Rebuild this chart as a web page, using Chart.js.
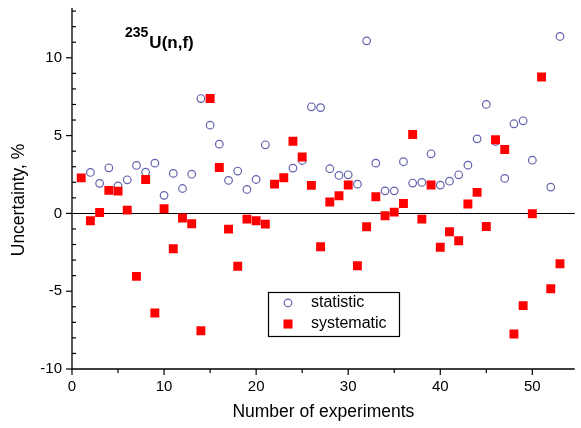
<!DOCTYPE html>
<html>
<head>
<meta charset="utf-8">
<script src="https://cdn.jsdelivr.net/npm/chart.js@4.4.1/dist/chart.umd.min.js"></script>
<style>
html,body{margin:0;padding:0;background:#fff;}
#wrap{width:581px;height:428px;}
</style>
</head>
<body>
<div id="wrap"><canvas id="c" width="581" height="428"></canvas></div>
<script>
const experiments = Array.from({length:53},(_,i)=>i+1);
const statistic = [null,2.63,1.93,2.93,1.77,2.16,3.08,2.65,3.23,1.16,2.57,1.6,2.52,7.38,5.67,4.45,2.12,2.72,1.54,2.18,4.41,null,null,2.91,3.4,6.85,6.8,2.87,2.44,2.48,1.88,11.09,3.23,1.45,1.45,3.32,1.95,1.99,3.83,1.82,2.07,2.48,3.1,4.79,7.0,4.62,2.25,5.76,5.95,3.42,null,1.69,11.37];
const systematic = [2.28,-0.47,0.06,1.48,1.43,0.21,-4.05,2.18,-6.4,0.3,-2.27,-0.3,-0.67,-7.54,7.38,2.95,-1.01,-3.4,-0.37,-0.47,-0.69,1.88,2.29,4.64,3.62,1.8,-2.14,0.73,1.13,1.82,-3.36,-0.86,1.07,-0.15,0.08,0.64,5.07,-0.37,1.82,-2.18,-1.18,-1.76,0.6,1.35,-0.84,4.73,4.11,-7.75,-5.93,-0.02,8.77,-4.84,-3.24];
const xMajorTicks = [0,10,20,30,40,50];
const xMinorTicks = [5,15,25,35,45];
const yMajorTicks = [-10,-5,0,5,10];
const yMinorTicks = [-9,-8,-7,-6,-4,-3,-2,-1,1,2,3,4,6,7,8,9,11,12,13];
const xTitle = 'Number of experiments';
const yTitle = 'Uncertainty, %';
const FONT = '"Liberation Sans", Arial, Helvetica, sans-serif';

const toPts = arr => experiments.map((n,i)=>({x:n,y:arr[i]})).filter(p=>p.y!==null);

const decor = {
  id:'decor',
  beforeDatasetsDraw(chart){
    const {ctx, chartArea:a, scales:{x,y}} = chart;
    ctx.save();
    ctx.strokeStyle='#000'; ctx.lineWidth=1.2;
    const y0 = Math.round(y.getPixelForValue(0))+0.5;
    ctx.beginPath(); ctx.moveTo(a.left,y0); ctx.lineTo(a.right,y0); ctx.stroke();
    ctx.restore();
  },
  afterDraw(chart){
    const {ctx, chartArea:a, scales:{x,y}} = chart;
    ctx.save();
    ctx.strokeStyle='#000'; ctx.lineWidth=1.3;
    ctx.beginPath(); ctx.moveTo(a.left,a.top); ctx.lineTo(a.left,a.bottom); ctx.lineTo(a.right,a.bottom); ctx.stroke();
    ctx.lineWidth=1.2;
    xMajorTicks.forEach(v=>{const px=x.getPixelForValue(v);ctx.beginPath();ctx.moveTo(px,a.bottom);ctx.lineTo(px,a.bottom+6);ctx.stroke();});
    xMinorTicks.forEach(v=>{const px=x.getPixelForValue(v);ctx.beginPath();ctx.moveTo(px,a.bottom);ctx.lineTo(px,a.bottom+4);ctx.stroke();});
    yMajorTicks.forEach(v=>{const py=y.getPixelForValue(v);ctx.beginPath();ctx.moveTo(a.left-6,py);ctx.lineTo(a.left,py);ctx.stroke();});
    yMinorTicks.forEach(v=>{const py=y.getPixelForValue(v);ctx.beginPath();ctx.moveTo(a.left,py);ctx.lineTo(a.left+4,py);ctx.stroke();});
    ctx.fillStyle='#000';
    ctx.font='15px '+FONT;
    ctx.textAlign='center'; ctx.textBaseline='middle';
    xMajorTicks.forEach(v=>ctx.fillText(String(v), x.getPixelForValue(v), a.bottom+18));
    ctx.textAlign='right';
    yMajorTicks.forEach(v=>ctx.fillText(String(v), a.left-10, y.getPixelForValue(v)));
    ctx.font='17.5px '+FONT;
    ctx.textAlign='center';
    ctx.fillText(xTitle, (a.left+a.right)/2, 412);
    ctx.save();
    ctx.translate(19, 200); ctx.rotate(-Math.PI/2);
    ctx.fillText(yTitle, 0, 0);
    ctx.restore();
    ctx.textAlign='left'; ctx.textBaseline='alphabetic';
    ctx.font='bold 14px '+FONT;
    ctx.fillText('235', 125, 37);
    const w = ctx.measureText('235').width;
    ctx.font='bold 17px '+FONT;
    ctx.fillText('U(n,f)', 125+w+1, 48);
    const lx=268, ly=292, lw=131, lh=44;
    ctx.lineWidth=1.2; ctx.strokeStyle='#000';
    ctx.strokeRect(lx+0.5, ly+0.5, lw, lh);
    ctx.font='16px '+FONT; ctx.textBaseline='middle';
    chart.data.datasets.forEach((ds,i)=>{
      const cy = ly + 11 + i*21;
      const cx = lx + 20;
      if(ds.pointStyle==='circle'){
        ctx.beginPath(); ctx.arc(cx,cy,ds.pointRadius,0,Math.PI*2);
        ctx.strokeStyle=ds.pointBorderColor; ctx.lineWidth=ds.pointBorderWidth; ctx.stroke();
      } else {
        ctx.fillStyle=ds.pointBackgroundColor; ctx.fillRect(cx-4.5,cy-4.5,9,9);
      }
      ctx.fillStyle='#000';
      ctx.fillText(ds.label, lx+43, cy);
    });
    ctx.restore();
  }
};

new Chart(document.getElementById('c'), {
  type:'scatter',
  data:{
    datasets:[
      {label:'statistic', data:toPts(statistic), pointStyle:'circle', pointRadius:3.8, pointBorderWidth:1.2,
       pointBorderColor:'#6262ac', pointBackgroundColor:'rgba(255,255,255,0)', order:1},
      {label:'systematic', data:toPts(systematic), pointStyle:'rect', pointRadius:6.3, pointBorderWidth:0,
       pointBorderColor:'#ff0000', pointBackgroundColor:'#ff0000', order:0}
    ]
  },
  options:{
    responsive:false, animation:false, devicePixelRatio:1,
    layout:{padding:{top:8,right:3,left:0,bottom:0}},
    plugins:{legend:{display:false}, tooltip:{enabled:false}},
    elements:{point:{hoverRadius:0}},
    scales:{
      x:{type:'linear', min:0, max:54.6, grid:{display:false}, border:{display:false},
         ticks:{display:false}, afterFit:s=>{s.height=59;}},
      y:{type:'linear', min:-10, max:13.2, grid:{display:false}, border:{display:false},
         ticks:{display:false}, afterFit:s=>{s.width=72;}}
    }
  },
  plugins:[decor]
});
</script>
</body>
</html>
